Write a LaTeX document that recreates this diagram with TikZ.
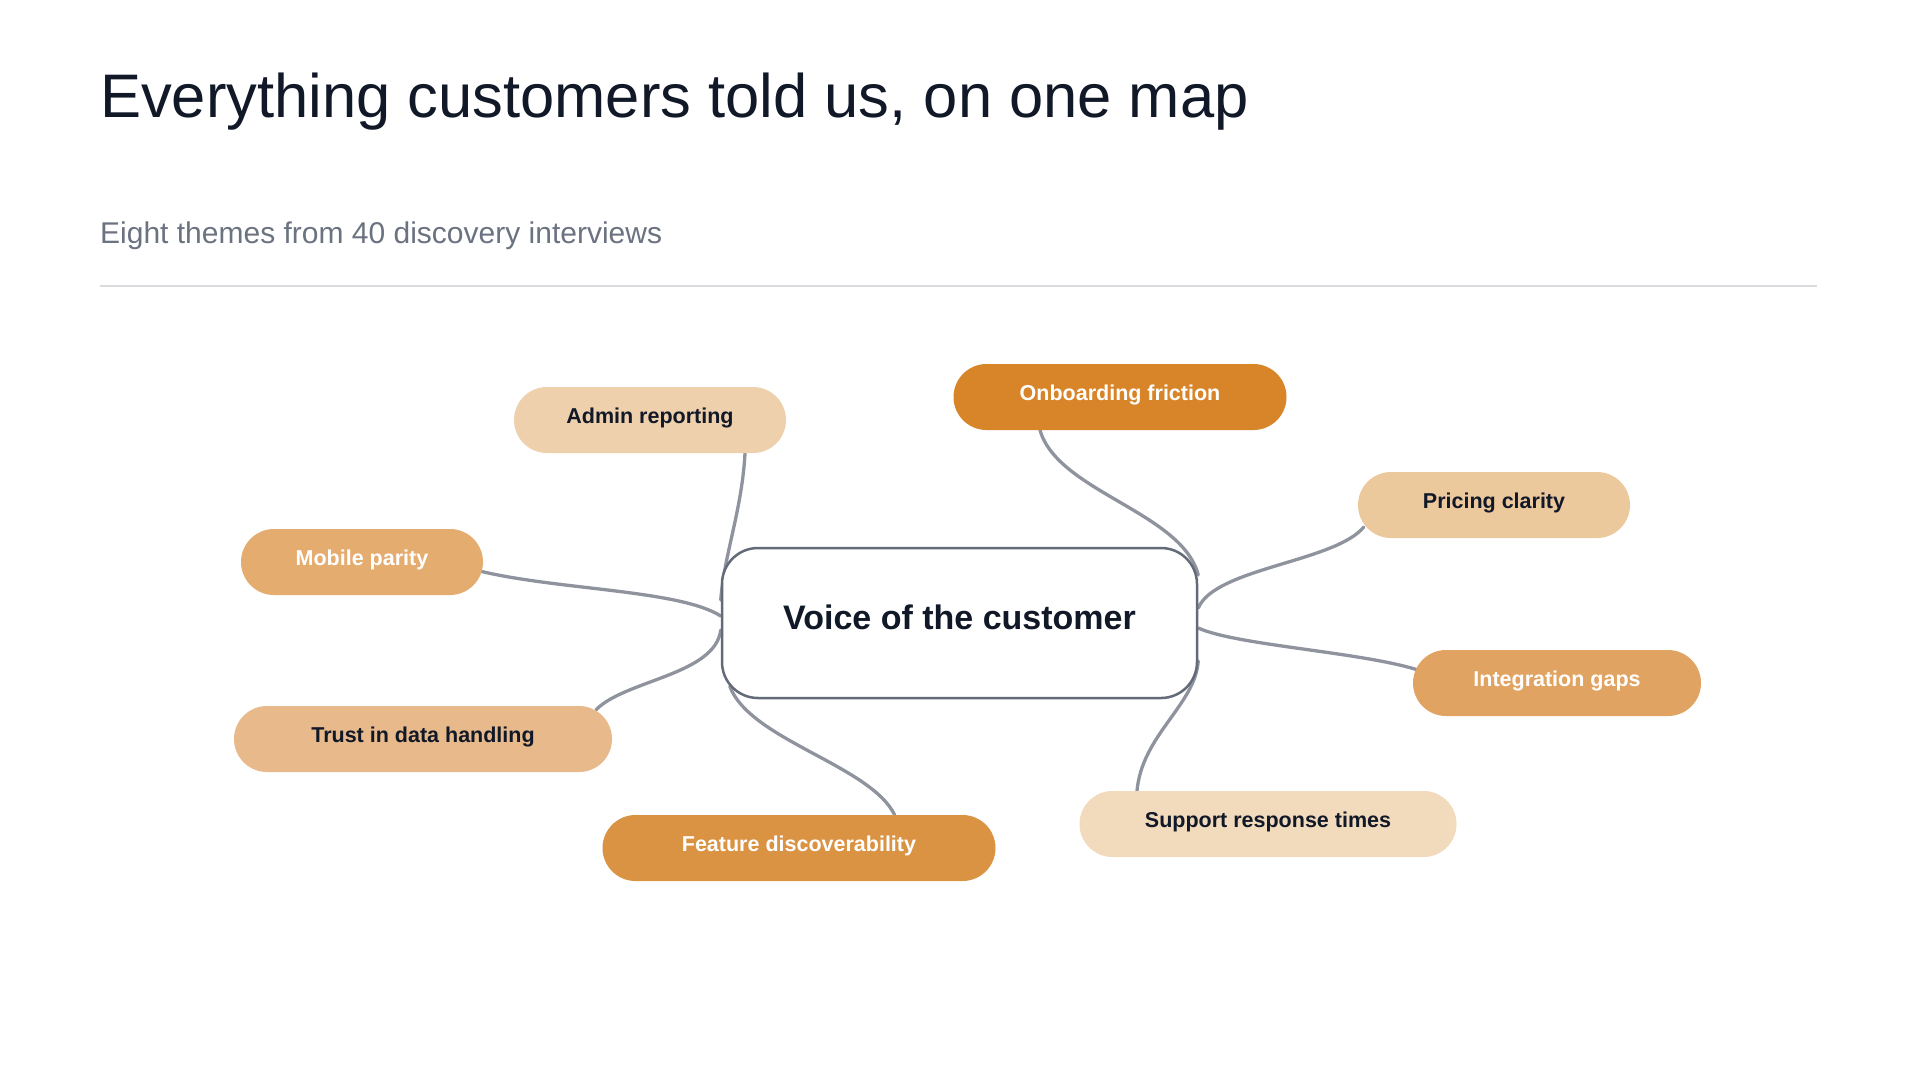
\documentclass[tikz,border=0pt]{standalone}
\usepackage{fontspec}
\setmainfont{Liberation Sans}
\definecolor{ink}{HTML}{111827}
\definecolor{subgrey}{HTML}{6B7280}
\definecolor{rulegrey}{HTML}{D9DBDF}
\definecolor{hubborder}{HTML}{646B78}
\definecolor{linkgrey}{HTML}{8E939D}
\definecolor{fAdmin}{HTML}{EFD0AD}
\definecolor{fOnb}{HTML}{D8852A}
\definecolor{fPrice}{HTML}{ECC89D}
\definecolor{fMobile}{HTML}{E5AC6F}
\definecolor{fInteg}{HTML}{E1A361}
\definecolor{fTrust}{HTML}{E8BA8B}
\definecolor{fFeat}{HTML}{DA9243}
\definecolor{fSupp}{HTML}{F2DABC}
\pgfdeclarelayer{paper}
\pgfdeclarelayer{links}
\pgfsetlayers{paper,links,main}
\tikzset{
  pill/.style={rectangle, rounded corners=33pt, minimum height=66pt, inner sep=0pt,
    font=\fontsize{21.5}{26}\selectfont\bfseries, text height=0.73em, text depth=0pt},
  pilldark/.style={pill, text=ink},
  pilllight/.style={pill, text=white},
  hubbox/.style={rectangle, rounded corners=36pt, minimum width=475pt, minimum height=150pt,
    draw=hubborder, line width=2.5pt, fill=white, inner sep=0pt, text=ink,
    font=\fontsize{34}{40}\selectfont\bfseries, text height=24.8pt, text depth=11pt},
  link/.style={draw=linkgrey, line width=3.3pt, line cap=round}
}
\begin{document}
\begin{tikzpicture}[x=1pt,y=-1pt]
\begin{pgfonlayer}{paper}
\fill[white] (0,0) rectangle (1919,1080);
\end{pgfonlayer}
\useasboundingbox (0,0) rectangle (1919,1080);

\node[anchor=base west, inner sep=0pt, text=ink, font=\fontsize{61.5}{70}\selectfont] (title) at (100,117) {Everything customers told us, on one map};
\node[anchor=base west, inner sep=0pt, text=subgrey, font=\fontsize{30}{36}\selectfont] (subtitle) at (100,243) {Eight themes from 40 discovery interviews};
\draw[rulegrey, line width=2.7pt] (100,286) -- (1817,286);

\node[hubbox] (hub) at (959.5,623) {Voice of the customer};

\node[pilldark, fill=fAdmin, minimum width=272pt] (admin) at (650,420) {Admin reporting};
\node[pilllight, fill=fOnb, minimum width=333pt] (onb) at (1120,397) {Onboarding friction};
\node[pilldark, fill=fPrice, minimum width=272pt] (price) at (1494,505) {Pricing clarity};
\node[pilllight, fill=fMobile, minimum width=242pt] (mobile) at (362,562) {Mobile parity};
\node[pilllight, fill=fInteg, minimum width=288pt] (integ) at (1557,683) {Integration gaps};
\node[pilldark, fill=fTrust, minimum width=378pt] (trust) at (423,739) {Trust in data handling};
\node[pilllight, fill=fFeat, minimum width=393pt] (feat) at (799,848) {Feature discoverability};
\node[pilldark, fill=fSupp, minimum width=377pt] (supp) at (1268,824) {Support response times};

\begin{pgfonlayer}{links}
\draw[link] ([xshift=95pt]admin.south) .. controls (742,510) and (724,555) .. ([yshift=23pt]hub.west);
\draw[link] ([xshift=-80pt]onb.south) .. controls (1058,492) and (1182,512) .. ([yshift=48pt]hub.east);
\draw[link] ([xshift=6pt,yshift=-22pt]price.west) .. controls (1335,562) and (1215,568) .. ([yshift=15pt]hub.east);
\draw[link] ([xshift=3.5pt,yshift=13.5pt]integ.west) .. controls (1360,652) and (1235,645) .. ([yshift=-5pt]hub.east);
\draw[link] ([xshift=-131pt]supp.north) .. controls (1142,735) and (1195,705) .. ([yshift=-38pt]hub.east);
\draw[link] ([xshift=-1.5pt,yshift=-9.5pt]mobile.east) .. controls (560,590) and (680,590) .. ([yshift=7pt]hub.west);
\draw[link] ([xshift=173pt,yshift=-4pt]trust.north) .. controls (625,680) and (715,675) .. ([yshift=-7pt]hub.west);
\draw[link] ([xshift=95.6pt]feat.north) .. controls (870,765) and (750,740) .. ([xshift=9pt,yshift=13pt]hub.south west);
\end{pgfonlayer}
\end{tikzpicture}
\end{document}
